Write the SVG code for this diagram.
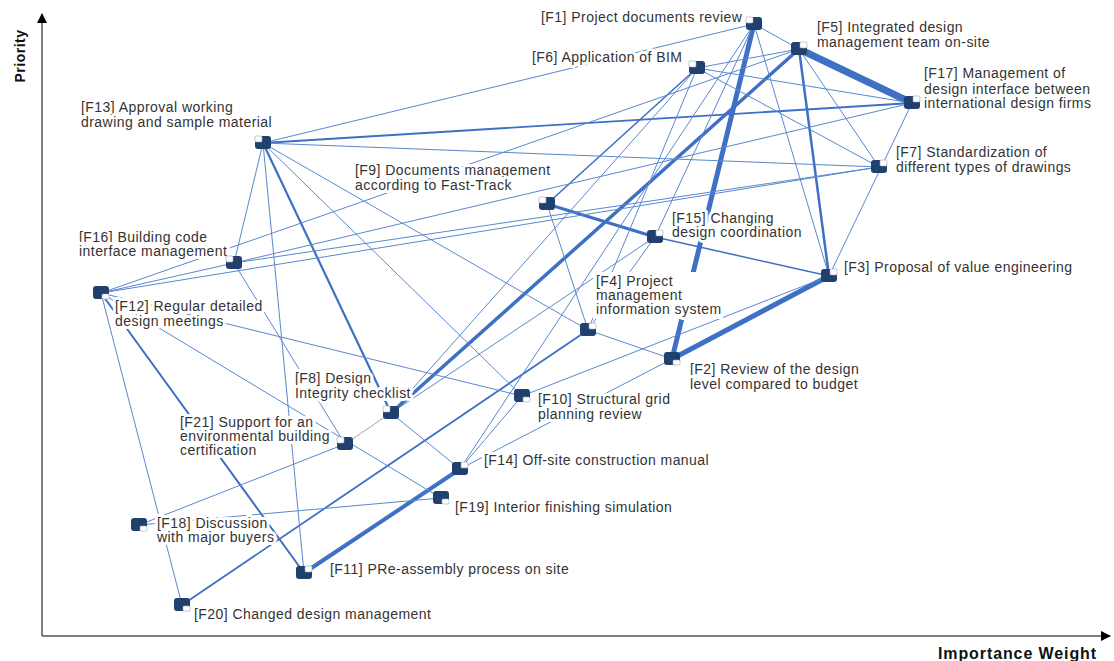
<svg xmlns="http://www.w3.org/2000/svg" width="1114" height="661" viewBox="0 0 1114 661">
<defs>
<style>
.t{font-family:"Liberation Sans",Arial,sans-serif;font-size:14px;letter-spacing:0.45px;fill:#333;stroke:#fff;stroke-width:6px;stroke-linejoin:round;paint-order:stroke}
.ax{font-family:"Liberation Sans",Arial,sans-serif;font-weight:bold;fill:#111}
.e{stroke:#3e70c4;fill:none;stroke-linecap:round}
.th{stroke-width:1;stroke:#5a88cf}
.nd{fill:#20406e}
.nw{fill:#fff;stroke:#9aa8bb;stroke-width:0.6}
</style>
<marker id="ah" viewBox="0 0 10 10" refX="9" refY="5" markerWidth="7" markerHeight="7" orient="auto"><path d="M0,0L10,5L0,10z" fill="#000"/></marker>
<symbol id="n" overflow="visible"><rect class="nd" x="-8" y="-7" width="16" height="13" rx="3"/></symbol>
</defs>
<rect width="1114" height="661" fill="#fff"/>
<g id="axes">
<line x1="42" y1="636" x2="42" y2="14" stroke="#555" stroke-width="1.5" marker-end="url(#ah)"/>
<line x1="42" y1="636" x2="1110" y2="636" stroke="#555" stroke-width="1.5" marker-end="url(#ah)"/>
<text class="ax" transform="translate(25,56) rotate(-90)" text-anchor="middle" font-size="14" letter-spacing="0.5">Priority</text>
<text class="ax" x="1097" y="659" text-anchor="end" font-size="16" letter-spacing="0.9">Importance Weight</text>
</g>
<g id="connectors">
<line class="e" x1="799" y1="49" x2="912" y2="103" stroke-width="7"/>
<line class="e" x1="754" y1="24" x2="672" y2="359" stroke-width="5"/>
<line class="e" x1="829" y1="276" x2="672" y2="359" stroke-width="5"/>
<line class="e" x1="460" y1="469" x2="304" y2="573" stroke-width="4"/>
<line class="e" x1="799" y1="49" x2="391" y2="413" stroke-width="3.5"/>
<line class="e" x1="547" y1="204" x2="655" y2="237" stroke-width="3"/>
<line class="e" x1="799" y1="49" x2="829" y2="276" stroke-width="2.5"/>
<line class="e" x1="263" y1="143" x2="391" y2="413" stroke-width="2.2"/>
<line class="e" x1="101" y1="293" x2="304" y2="573" stroke-width="2"/>
<line class="e" x1="182" y1="605" x2="588" y2="330" stroke-width="1.8"/>
<line class="e" x1="263" y1="143" x2="912" y2="103" stroke-width="1.8"/>
<line class="e" x1="655" y1="237" x2="829" y2="276" stroke-width="1.5"/>
<line class="e" x1="697" y1="68" x2="547" y2="204" stroke-width="1.6"/>
<g class="e th">
<line x1="754" y1="24" x2="263" y2="143"/>
<line x1="754" y1="24" x2="799" y2="49"/>
<line x1="754" y1="24" x2="829" y2="276"/>
<line x1="754" y1="24" x2="655" y2="237"/>
<line x1="754" y1="24" x2="460" y2="469"/>
<line x1="799" y1="49" x2="697" y2="68"/>
<line x1="799" y1="49" x2="879" y2="167"/>
<line x1="697" y1="68" x2="879" y2="167"/>
<line x1="697" y1="68" x2="588" y2="330"/>
<line x1="697" y1="68" x2="391" y2="413"/>
<line x1="697" y1="68" x2="912" y2="103"/>
<line x1="101" y1="293" x2="799" y2="49"/>
<line x1="101" y1="293" x2="879" y2="167"/>
<line x1="101" y1="293" x2="234" y2="263"/>
<line x1="101" y1="293" x2="182" y2="605"/>
<line x1="101" y1="293" x2="522" y2="396"/>
<line x1="101" y1="293" x2="441" y2="498"/>
<line x1="263" y1="143" x2="879" y2="167"/>
<line x1="263" y1="143" x2="234" y2="263"/>
<line x1="263" y1="143" x2="304" y2="573"/>
<line x1="263" y1="143" x2="588" y2="330"/>
<line x1="263" y1="143" x2="522" y2="396"/>
<line x1="234" y1="263" x2="345" y2="444"/>
<line x1="234" y1="263" x2="912" y2="103"/>
<line x1="234" y1="263" x2="879" y2="167"/>
<line x1="547" y1="204" x2="588" y2="330"/>
<line x1="655" y1="237" x2="588" y2="330"/>
<line x1="655" y1="237" x2="391" y2="413"/>
<line x1="912" y1="103" x2="829" y2="276"/>
<line x1="829" y1="276" x2="522" y2="396"/>
<line x1="588" y1="330" x2="672" y2="359"/>
<line x1="460" y1="469" x2="672" y2="359"/>
<line x1="460" y1="469" x2="522" y2="396"/>
<line x1="460" y1="469" x2="391" y2="413"/>
<line x1="391" y1="413" x2="345" y2="444" stroke="#9aa"/>
<line x1="139" y1="525" x2="345" y2="444"/>
<line x1="139" y1="525" x2="441" y2="498"/>
</g>
</g>
<g id="labels">
<rect x="593" y="272" width="130" height="47" fill="#fff"/>
<text class="t" x="541" y="22">[F1] Project documents review</text>
<text class="t" x="817" y="32">[F5] Integrated design</text>
<text class="t" x="817" y="47">management team on-site</text>
<text class="t" x="532" y="62">[F6] Application of BIM</text>
<text class="t" x="924" y="78">[F17] Management of</text>
<text class="t" x="924" y="94">design interface between</text>
<text class="t" x="924" y="108">international design firms</text>
<text class="t" x="81" y="112">[F13] Approval working</text>
<text class="t" x="81" y="127">drawing and sample material</text>
<text class="t" x="896" y="157">[F7] Standardization of</text>
<text class="t" x="896" y="172">different types of drawings</text>
<text class="t" x="355" y="175">[F9] Documents management</text>
<text class="t" x="355" y="190">according to Fast-Track</text>
<text class="t" x="672" y="223">[F15] Changing</text>
<text class="t" x="672" y="237">design coordination</text>
<text class="t" x="79" y="242">[F16] Building code</text>
<text class="t" x="79" y="256">interface management</text>
<text class="t" x="844" y="272">[F3] Proposal of value engineering</text>
<text class="t" x="115" y="311">[F12] Regular detailed</text>
<text class="t" x="115" y="326">design meetings</text>
<text class="t" x="596" y="286">[F4] Project</text>
<text class="t" x="596" y="300">management</text>
<text class="t" x="596" y="314">information system</text>
<text class="t" x="690" y="374">[F2] Review of the design</text>
<text class="t" x="690" y="389">level compared to budget</text>
<text class="t" x="295" y="383">[F8] Design</text>
<text class="t" x="295" y="398">Integrity checklist</text>
<text class="t" x="538" y="404">[F10] Structural grid</text>
<text class="t" x="538" y="419">planning review</text>
<text class="t" x="180" y="427">[F21] Support for an</text>
<text class="t" x="180" y="441">environmental building</text>
<text class="t" x="180" y="455">certification</text>
<text class="t" x="484" y="465">[F14] Off-site construction manual</text>
<text class="t" x="455" y="512">[F19] Interior finishing simulation</text>
<text class="t" x="157" y="528">[F18] Discussion</text>
<text class="t" x="157" y="542">with major buyers</text>
<text class="t" x="330" y="574">[F11] PRe-assembly process on site</text>
<text class="t" x="194" y="619">[F20] Changed design management</text>
</g>
<g id="F1"><use href="#n" x="754" y="24"/><rect class="nw" x="746" y="17" width="7" height="6" rx="1"/></g>
<g id="F5"><use href="#n" x="799" y="49"/><rect class="nw" x="800" y="42" width="7" height="6" rx="1"/></g>
<g id="F6"><use href="#n" x="697" y="68"/><rect class="nw" x="689" y="61" width="7" height="6" rx="1"/></g>
<g id="F17"><use href="#n" x="912" y="103"/><rect class="nw" x="913" y="96" width="7" height="6" rx="1"/></g>
<g id="F13"><use href="#n" x="263" y="143"/><rect class="nw" x="255" y="136" width="7" height="6" rx="1"/></g>
<g id="F7"><use href="#n" x="879" y="167"/><rect class="nw" x="880" y="160" width="7" height="6" rx="1"/></g>
<g id="F9"><use href="#n" x="547" y="204"/><rect class="nw" x="539" y="197" width="7" height="6" rx="1"/></g>
<g id="F15"><use href="#n" x="655" y="237"/><rect class="nw" x="656" y="230" width="7" height="6" rx="1"/></g>
<g id="F16"><use href="#n" x="234" y="263"/><rect class="nw" x="226" y="256" width="7" height="6" rx="1"/></g>
<g id="F3"><use href="#n" x="829" y="276"/><rect class="nw" x="830" y="269" width="7" height="6" rx="1"/></g>
<g id="F12"><use href="#n" x="101" y="293"/><rect class="nw" x="102" y="294" width="7" height="5" rx="1"/></g>
<g id="F4"><use href="#n" x="588" y="330"/><rect class="nw" x="589" y="323" width="7" height="6" rx="1"/></g>
<g id="F2"><use href="#n" x="672" y="359"/><rect class="nw" x="673" y="360" width="7" height="5" rx="1"/></g>
<g id="F10"><use href="#n" x="522" y="396"/><rect class="nw" x="523" y="397" width="7" height="5" rx="1"/></g>
<g id="F8"><use href="#n" x="391" y="413"/><rect class="nw" x="383" y="406" width="7" height="6" rx="1"/></g>
<g id="F21"><use href="#n" x="345" y="444"/><rect class="nw" x="337" y="437" width="7" height="6" rx="1"/></g>
<g id="F14"><use href="#n" x="460" y="469"/><rect class="nw" x="461" y="462" width="7" height="6" rx="1"/></g>
<g id="F19"><use href="#n" x="441" y="498"/><rect class="nw" x="442" y="499" width="7" height="5" rx="1"/></g>
<g id="F18"><use href="#n" x="139" y="525"/><rect class="nw" x="140" y="526" width="7" height="5" rx="1"/></g>
<g id="F11"><use href="#n" x="304" y="573"/><rect class="nw" x="305" y="566" width="7" height="6" rx="1"/></g>
<g id="F20"><use href="#n" x="182" y="605"/><rect class="nw" x="183" y="606" width="7" height="5" rx="1"/></g>
</svg>
